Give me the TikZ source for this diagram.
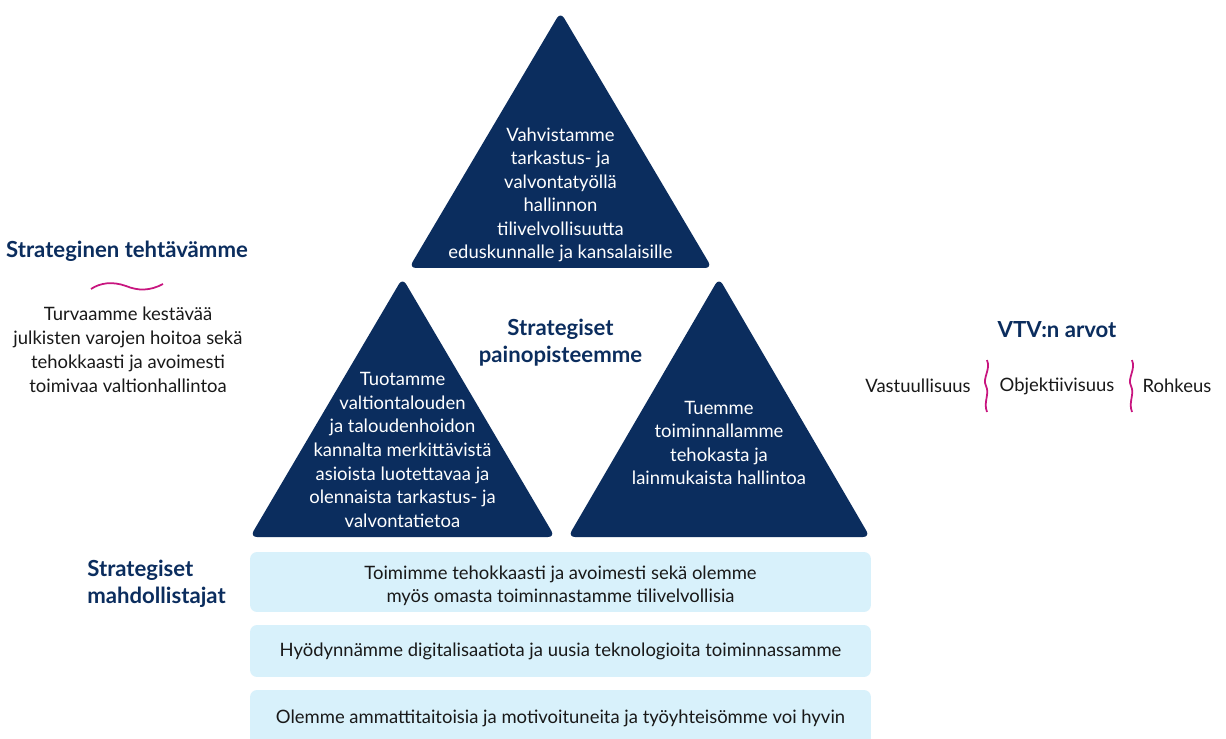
\documentclass[tikz,border=0pt]{standalone}
\usepackage{fontspec}
\setmainfont{Lato}
\definecolor{vnavy}{HTML}{0B2D5E}
\definecolor{vpink}{HTML}{C8157F}
\definecolor{vsky}{HTML}{D8F1FB}
\tikzset{
    TRI/.style ={fill=vnavy, rounded corners=4pt},
    TT/.style ={text=white, align=center, font=\fontsize{10.5}{13.4}\selectfont},
    HD/.style ={text=vnavy, align=center, font=\bfseries\fontsize{12.6}{15.4}\selectfont},
    BT/.style ={text=black!90, align=center, font=\fontsize{10.5}{13.6}\selectfont},
    BX/.style ={fill=vsky, rounded corners=4pt, minimum width=12.42cm},
    WV/.style ={draw=vpink, line width=1pt}}
\begin{document}
\begin{tikzpicture}[x=0.02cm,y=-0.02cm]
        \clip (0,0) rectangle (1226,739);
        \fill[white] (0,0) rectangle (1226,739);
        % triangles
        \fill[TRI] (560.5,12) -- (712,268) -- (409,268) -- cycle;
        \fill[TRI] (402.5,278) -- (555,537) -- (250,537) -- cycle;
        \fill[TRI] (719,278) -- (870,537) -- (568,537) -- cycle;
        \node[TT] (t1) at (560.5,195){Vahvistamme\\tarkastus- ja\\valvontatyöllä\\hallinnon\\tilivelvollisuutta\\eduskunnalle ja kansalaisille};
        \node[TT] (t2) at (402.5,450){Tuotamme\\valtiontalouden\\ja taloudenhoidon\\kannalta merkittävistä\\asioista luotettavaa ja\\olennaista tarkastus- ja\\valvontatietoa};
        \node[TT] (t3) at (719,443){Tuemme\\toiminnallamme\\tehokasta ja\\lainmukaista hallintoa};
        \node[HD] (h2) at (560.5,343){Strategiset\\painopisteemme};
        % mission
        \node[HD] (h1) at (127,251){Strateginen tehtävämme};
        \draw[WV] (91,289) .. controls (100,283) and (112,281) .. (126,286)
            .. controls (138,291) and (150,291) .. (163,284);
        \node[BT] (m) at (128,350){Turvaamme kestävää\\julkisten varojen hoitoa sekä\\tehokkaasti ja avoimesti\\toimivaa valtionhallintoa};
        % values
        \node[HD] (h3) at (1057,330){VTV:n arvot};
        \node[BT] (a1) at (918,386){Vastuullisuus};
        \node[BT] (a2) at (1057,386){Objektiivisuus};
        \node[BT] (a3) at (1177,386){Rohkeus};
        \foreach \x in {986,1131}
            \draw[WV] ({\x+1},360) .. controls ({\x+5},370) and ({\x-4},378) .. (\x,386)
                .. controls ({\x+4},394) and ({\x-3},402) .. ({\x+1},412);
        % enablers
        \node[HD,align=left,anchor=west,inner xsep=0pt] (h4) at (87,584){Strategiset\\mahdollistajat};
        \node[BX,minimum height=1.2cm] (b1) at (560.5,582){};
        \node[BX,minimum height=1.04cm] (b2) at (560.5,651){};
        \node[BX,minimum height=1.12cm] (b3) at (560.5,718){};
        \node[BT,font=\fontsize{10.5}{12.8}\selectfont] (b1t) at (560.5,586){Toimimme tehokkaasti ja avoimesti sekä olemme\\myös omasta toiminnastamme tilivelvollisia};
        \node[BT] (b2t) at (b2){Hyödynnämme digitalisaatiota ja uusia teknologioita toiminnassamme};
        \node[BT] (b3t) at (b3){Olemme ammattitaitoisia ja motivoituneita ja työyhteisömme voi hyvin};
    \end{tikzpicture}
\end{document}
